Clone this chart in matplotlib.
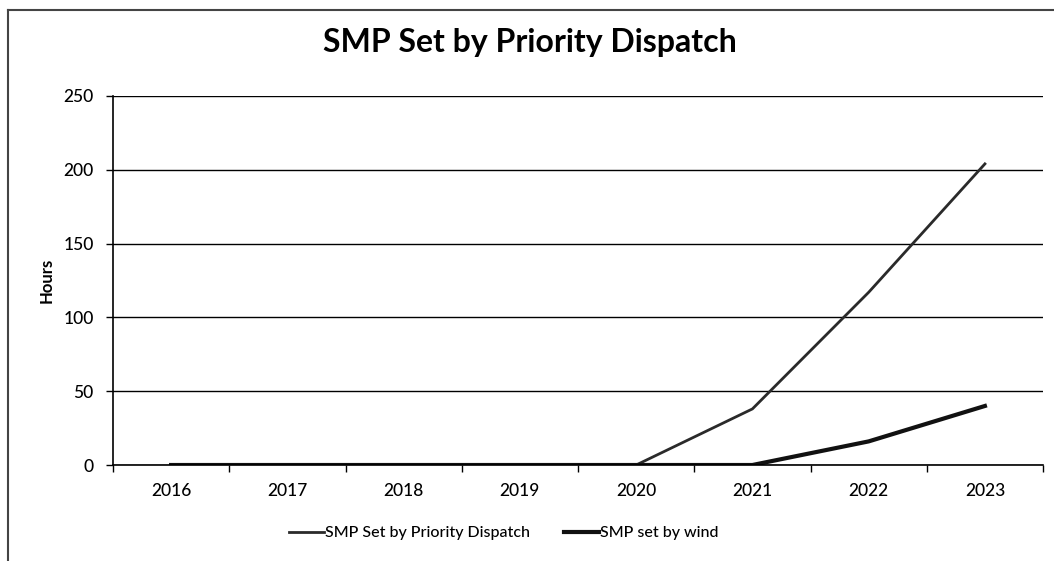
import numpy as np
import matplotlib.pyplot as plt
from matplotlib.lines import Line2D

plt.rcParams['font.family'] = ['Lato', 'DejaVu Sans']

years = ['2016', '2017', '2018', '2019', '2020', '2021', '2022', '2023']
priority_dispatch = [0, 0, 0, 0, 0, 38, 117, 204]
wind = [0, 0, 0, 0, 0, 0, 16, 40]

fig = plt.figure(figsize=(10.54, 5.61), dpi=100)
ax = fig.add_axes([0.1072, 0.1711, 0.8824, 0.6578])

x = np.arange(len(years))
ax.plot(x, priority_dispatch, color='#2a2a2a', lw=2.0, label='SMP Set by Priority Dispatch')
ax.plot(x, wind, color='#111111', lw=3.0, label='SMP set by wind')

ax.set_xlim(-0.5, len(years) - 0.5)
ax.set_ylim(0, 250)
ax.set_yticks([0, 50, 100, 150, 200, 250])
ax.yaxis.grid(True, color='black', lw=1.0)
ax.set_axisbelow(True)

# category ticks sit between the years, labels in the middle
ax.set_xticks(np.arange(len(years) + 1) - 0.5)
ax.set_xticklabels([])
ax.set_xticks(x, minor=True)
ax.set_xticklabels(years, minor=True, fontsize=12.5, fontweight='medium')
ax.tick_params(axis='x', which='minor', length=0, pad=13)
ax.tick_params(axis='x', which='major', length=5, width=1, color='black')
ax.tick_params(axis='y', length=5, width=1, labelsize=12.5, pad=9)
for lbl in ax.get_yticklabels():
    lbl.set_fontweight('medium')

for s in ['top', 'right']:
    ax.spines[s].set_visible(False)
ax.spines['left'].set_linewidth(1.2)
ax.spines['bottom'].set_linewidth(1.2)

ax.set_ylabel('Hours', fontsize=12, fontweight='bold', labelpad=6)
fig.text(0.503, 0.925, 'SMP Set by Priority Dispatch', ha='center', va='center',
         fontsize=23, fontweight='bold')

ax.legend(loc='center', bbox_to_anchor=(0.42, -0.185), ncol=2, frameon=False,
          handlelength=2.2, handletextpad=0.05, columnspacing=2.1,
          prop={'weight': 'medium', 'size': 11.5})

# outer chart frame (left and top edges visible in the scan)
fig.add_artist(Line2D([0.008, 0.008], [0.0, 0.982], transform=fig.transFigure,
                      color='#444444', lw=1.5))
fig.add_artist(Line2D([0.008, 1.0], [0.982, 0.982], transform=fig.transFigure,
                      color='#444444', lw=1.5))

fig.savefig('out.png', dpi=100)
